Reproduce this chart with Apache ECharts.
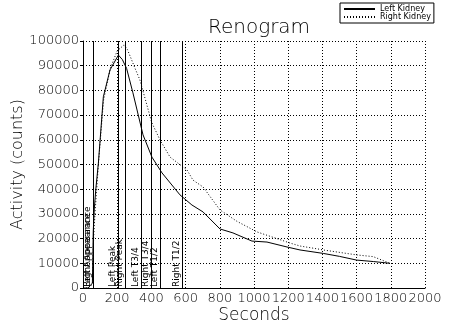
<!DOCTYPE html>
<html><head><meta charset="utf-8">
<script src="https://cdn.jsdelivr.net/npm/echarts@6/dist/echarts.min.js"></script>
<style>html,body{margin:0;padding:0;background:#fff}#c{width:455px;height:331px}</style>
</head><body><div id="c"></div>
<script>
var leftTimes  = [0, 30, 55, 60, 66, 75, 90, 119, 158, 207, 230, 255, 292, 351, 403, 462, 567, 637, 702, 801, 877, 988, 1076, 1193, 1269, 1405, 1500, 1600, 1700, 1795];
var leftValues = [0, 0, 2000, 23000, 32000, 40000, 50600, 77400, 88300, 94300, 92500, 88900, 79000, 62000, 53000, 46600, 37700, 33600, 30800, 23900, 22300, 19000, 18600, 16600, 15400, 14000, 12800, 11300, 10700, 10000];
var rightTimes  = [0, 30, 55, 62, 70, 90, 120, 160, 200, 240, 260, 304, 333, 402, 450, 509, 608, 643, 702, 801, 900, 1018, 1211, 1269, 1374, 1405, 1600, 1697, 1795];
var rightValues = [0, 0, 1500, 20000, 30000, 50000, 76000, 89000, 96000, 98400, 96500, 89000, 84200, 67000, 60000, 53000, 47800, 43700, 40900, 31600, 27000, 22700, 18200, 17000, 15800, 15400, 13400, 12700, 10000];
var markerLabels = ['Left Appearance', 'Right Appearance', 'Left Peak', 'Right Peak', 'Left T3/4', 'Right T3/4', 'Left T1/2', 'Right T1/2'];
var markerTimes  = [58, 58, 206, 245, 339, 398, 454, 579];
var seriesNames = ['Left Kidney', 'Right Kidney'];
var yTicks = [0, 10000, 20000, 30000, 40000, 50000, 60000, 70000, 80000, 90000, 100000];
var xTicks = [0, 200, 400, 600, 800, 1000, 1200, 1400, 1600, 1800, 2000];

function pairs(t, v) { return t.map(function (x, i) { return [x, v[i]]; }); }
var F = 'DejaVu Sans';
var chart = echarts.init(document.getElementById('c'), null, {renderer: 'canvas'});
chart.setOption({
  animation: false,
  backgroundColor: '#fff',
  title: {
    text: 'Renogram', left: 254, top: 13, textAlign: 'center',
    textStyle: {fontFamily: F, fontSize: 20, fontWeight: 200, color: '#000'}
  },
  legend: {
    orient: 'vertical', left: 340, top: 3, itemGap: 0, padding: [2, 3, 2, 3],
    borderColor: '#000', borderWidth: 1, itemWidth: 31, itemHeight: 8,
    itemStyle: {color: 'rgba(0,0,0,0)', borderWidth: 0},
    textStyle: {fontFamily: F, fontSize: 8, color: '#000', lineHeight: 8},
    data: seriesNames
  },
  grid: {left: 83, right: 30, top: 41, bottom: 43, containLabel: false, outerBoundsMode: 'none'},
  xAxis: {
    type: 'value', min: xTicks[0], max: xTicks[xTicks.length - 1], interval: 200,
    name: 'Seconds', nameLocation: 'middle', nameGap: 19, nameMoveOverlap: false,
    nameTextStyle: {fontFamily: F, fontSize: 17, fontWeight: 200, color: '#000'},
    axisLine: {lineStyle: {color: '#000', width: 1}},
    axisTick: {show: false},
    axisLabel: {margin: 4, fontFamily: F, fontSize: 13, fontWeight: 200, color: '#000', showMinLabel: true, showMaxLabel: true,
                formatter: function (v) { return String(v); }},
    splitLine: {show: true, lineStyle: {color: '#000', type: [1, 2], width: 1}}
  },
  yAxis: {
    type: 'value', min: yTicks[0], max: yTicks[yTicks.length - 1], interval: 10000,
    name: 'Activity (counts)', nameLocation: 'middle', nameGap: 57, nameMoveOverlap: false,
    nameTextStyle: {fontFamily: F, fontSize: 16, fontWeight: 200, color: '#000'},
    axisLine: {show: true, lineStyle: {color: '#000', width: 1}},
    axisTick: {show: true, inside: false, length: 3, lineStyle: {color: '#000'}},
    axisLabel: {margin: 4, fontFamily: F, fontSize: 13, fontWeight: 200, color: '#000',
                formatter: function (v) { return String(v); }},
    splitLine: {show: true, lineStyle: {color: '#000', type: [1, 2], width: 1}}
  },
  series: [
    {
      name: seriesNames[0], type: 'line', data: pairs(leftTimes, leftValues),
      showSymbol: false, symbol: 'none', lineStyle: {color: '#000', width: 1, type: 'solid'},
      itemStyle: {color: '#000'},
      markLine: {
        silent: true, symbol: 'none', animation: false,
        lineStyle: {color: '#000', width: 1, type: 'solid'},
        label: {show: true, position: 'insideStartTop', distance: [1, 1], fontFamily: F, fontSize: 9, color: '#000',
                formatter: function (p) { return p.name; }},
        data: markerTimes.map(function (t, i) { return {name: markerLabels[i], xAxis: t}; })
      }
    },
    {
      name: seriesNames[1], type: 'line', data: pairs(rightTimes, rightValues),
      showSymbol: false, symbol: 'none', lineStyle: {color: '#000', width: 1, type: [1, 2]},
      itemStyle: {color: '#000'}
    }
  ]
});
</script></body></html>
